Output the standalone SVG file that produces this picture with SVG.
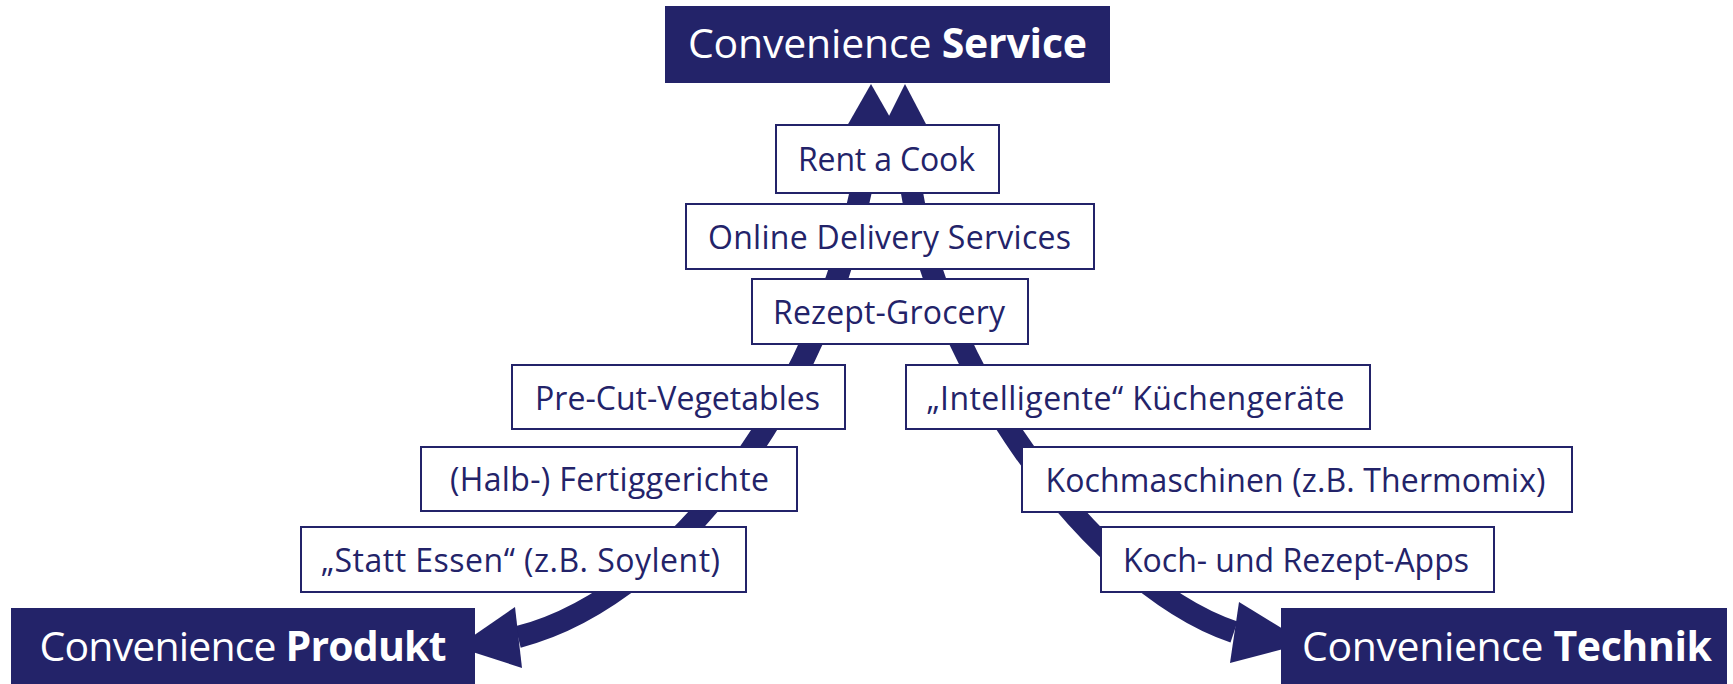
<svg xmlns="http://www.w3.org/2000/svg" width="1733" height="684" viewBox="0 0 1733 684">
  <style>
    .title { fill: #232369; }
    .titletext { font-family: "Open Sans", "Liberation Sans", sans-serif; font-size: 41px; fill: #ffffff; text-anchor: middle; }
    .box { fill: #ffffff; stroke: #232369; stroke-width: 2; }
    .item { font-family: "Open Sans", "Liberation Sans", sans-serif; font-size: 32px; fill: #232369; text-anchor: middle; }
    .arc { fill: none; stroke: #232369; stroke-width: 22; }
    .head { fill: #232369; stroke: none; }
    .b { font-weight: bold; }
  </style>
  <rect x="0" y="0" width="1733" height="684" fill="#ffffff"/>

  <g id="connectors">
    <path class="arc" d="M871,125 C847,365 683,595 518,637"/>
    <polygon class="head" points="871,84 895,126 847,126"/>
    <polygon class="head" points="515,607 457,647 522,668"/>
    <path class="arc" d="M906,125 C906,330 1085,582 1234,632"/>
    <polygon class="head" points="905,84 927,126 884,126"/>
    <polygon class="head" points="1239,602 1306,643 1230,663"/>
  </g>

  <g id="service">
    <rect class="title" x="665" y="6" width="445" height="77"/>
    <text class="titletext" x="887.5" y="58" textLength="399">Convenience <tspan class="b">Service</tspan></text>
  </g>
  <g id="produkt">
    <rect class="title" x="11" y="608" width="464" height="76"/>
    <text class="titletext" x="243" y="661" textLength="407">Convenience <tspan class="b">Produkt</tspan></text>
  </g>
  <g id="technik">
    <rect class="title" x="1281" y="608" width="446" height="76"/>
    <text class="titletext" x="1507" y="661" textLength="410">Convenience <tspan class="b">Technik</tspan></text>
  </g>

  <g id="rent-a-cook">
    <rect class="box" x="776" y="125" width="223" height="68"/>
    <text class="item" x="886.5" y="171" textLength="177">Rent a Cook</text>
  </g>
  <g id="online-delivery">
    <rect class="box" x="686" y="204" width="408" height="65"/>
    <text class="item" x="889.5" y="249" textLength="363">Online Delivery Services</text>
  </g>
  <g id="rezept-grocery">
    <rect class="box" x="752" y="279" width="276" height="65"/>
    <text class="item" x="889" y="324" textLength="232">Rezept-Grocery</text>
  </g>
  <g id="pre-cut">
    <rect class="box" x="512" y="365" width="333" height="64"/>
    <text class="item" x="677.5" y="410" textLength="285">Pre-Cut-Vegetables</text>
  </g>
  <g id="fertiggerichte">
    <rect class="box" x="421" y="447" width="376" height="64"/>
    <text class="item" x="609.5" y="491" textLength="319">(Halb-) Fertiggerichte</text>
  </g>
  <g id="statt-essen">
    <rect class="box" x="301" y="527" width="445" height="65"/>
    <text class="item" x="520.5" y="572" textLength="399">„Statt Essen“ (z.B. Soylent)</text>
  </g>
  <g id="intelligente">
    <rect class="box" x="906" y="365" width="464" height="64"/>
    <text class="item" x="1135.5" y="410" textLength="418">„Intelligente“ Küchengeräte</text>
  </g>
  <g id="kochmaschinen">
    <rect class="box" x="1022" y="447" width="550" height="65"/>
    <text class="item" x="1295.5" y="492" textLength="500">Kochmaschinen (z.B. Thermomix)</text>
  </g>
  <g id="koch-apps">
    <rect class="box" x="1101" y="527" width="393" height="65"/>
    <text class="item" x="1296" y="572" textLength="346">Koch- und Rezept-Apps</text>
  </g>
</svg>
